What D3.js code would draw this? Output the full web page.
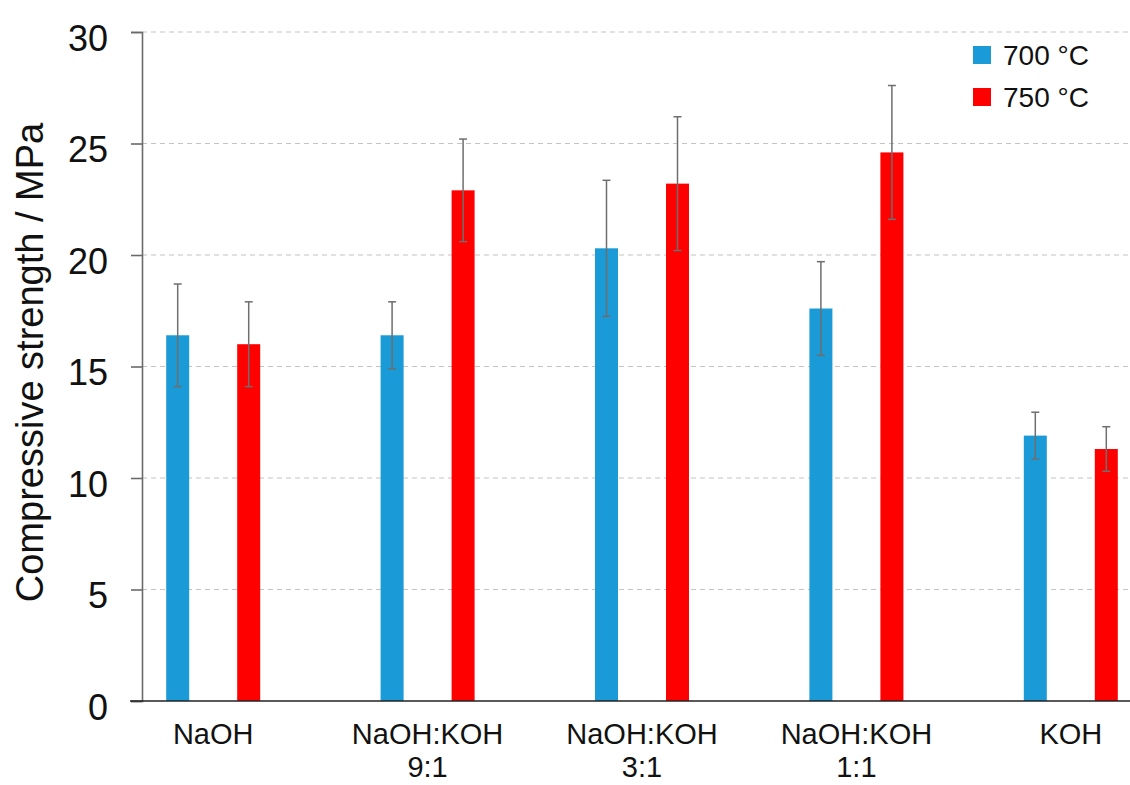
<!DOCTYPE html>
<html>
<head>
<meta charset="utf-8">
<script src="https://cdn.jsdelivr.net/npm/d3@7"></script>
<style>
  body { margin: 0; background: #fff; }
  svg { font-family: Arial, "Liberation Sans", sans-serif; }
</style>
</head>
<body>
<div id="chart"></div>
<script>
// Dados
const categorias = [["NaOH"], ["NaOH:KOH", "9:1"], ["NaOH:KOH", "3:1"], ["NaOH:KOH", "1:1"], ["KOH"]];
const series = ["700 °C", "750 °C"];
const valores700 = [16.4, 16.4, 20.3, 17.6, 11.9];
const erros700 = [2.3, 1.5, 3.05, 2.1, 1.05];
const valores750 = [16.0, 22.9, 23.2, 24.6, 11.3];
const erros750 = [1.9, 2.3, 3.0, 3.0, 1.0];
const ticksY = [0, 5, 10, 15, 20, 25, 30];
const cores = ["#1a9ad6", "#ff0000"];

const width = 1130, height = 785;

const svg = d3.select("#chart").append("svg")
    .attr("width", width)
    .attr("height", height);

// Escalas
const x = d3.scaleBand()
    .domain(d3.range(categorias.length))
    .range([106, 1178]);

const y = d3.scaleLinear()
    .domain([0, 30])
    .range([701, 32]);

const xSub = d3.scaleOrdinal()
    .domain(series)
    .range([-35.5, 35.5]);

// Linhas de grade tracejadas
svg.append("g")
    .selectAll("line")
    .data(ticksY.filter(d => d > 0))
    .enter()
    .append("line")
    .attr("x1", 142).attr("x2", width)
    .attr("y1", d => y(d)).attr("y2", d => y(d))
    .attr("stroke", "#c4c4c4")
    .attr("stroke-width", 1.2)
    .attr("stroke-dasharray", "5,4");

// Eixo Y
const eixoY = svg.append("g")
    .attr("transform", "translate(142,0)")
    .call(d3.axisLeft(y).tickValues(ticksY).tickSize(11).tickPadding(23));
eixoY.select(".domain").attr("stroke", "#6b6b6b").attr("stroke-width", 1.6);
eixoY.selectAll(".tick line").attr("stroke", "#6b6b6b").attr("stroke-width", 1.6);
eixoY.selectAll(".tick text")
    .attr("font-size", 36)
    .attr("dy", "0.5em")
    .attr("fill", "#111")
    .attr("font-family", "Arial, 'Liberation Sans', sans-serif");

// Título do eixo Y
svg.append("text")
    .attr("transform", `translate(43,${y(15) - 4}) rotate(-90)`)
    .attr("text-anchor", "middle")
    .attr("font-size", 38)
    .attr("fill", "#111")
    .text("Compressive strength / MPa");

// Barras
const dados = [];
categorias.forEach((c, i) => {
    dados.push({ i: i, s: series[0], v: valores700[i], e: erros700[i] });
    dados.push({ i: i, s: series[1], v: valores750[i], e: erros750[i] });
});
const cor = d3.scaleOrdinal().domain(series).range(cores);
const barW = 23;

svg.append("g")
    .selectAll("rect")
    .data(dados)
    .enter()
    .append("rect")
    .attr("x", d => x(d.i) + x.bandwidth() / 2 + xSub(d.s) - barW / 2)
    .attr("y", d => y(d.v))
    .attr("width", barW)
    .attr("height", d => y(0) - y(d.v))
    .attr("fill", d => cor(d.s));

// Barras de erro
const eb = svg.append("g")
    .selectAll("g")
    .data(dados)
    .enter()
    .append("g")
    .attr("stroke", "#6e6e6e")
    .attr("stroke-width", 1.5);
const cx = d => x(d.i) + x.bandwidth() / 2 + xSub(d.s);
eb.append("line")
    .attr("x1", cx).attr("x2", cx)
    .attr("y1", d => y(d.v + d.e)).attr("y2", d => y(d.v - d.e));
eb.append("line")
    .attr("x1", d => cx(d) - 4).attr("x2", d => cx(d) + 4)
    .attr("y1", d => y(d.v + d.e)).attr("y2", d => y(d.v + d.e));
eb.append("line")
    .attr("x1", d => cx(d) - 4).attr("x2", d => cx(d) + 4)
    .attr("y1", d => y(d.v - d.e)).attr("y2", d => y(d.v - d.e));

// Eixo X
svg.append("line")
    .attr("x1", 130).attr("x2", width)
    .attr("y1", y(0)).attr("y2", y(0))
    .attr("stroke", "#222")
    .attr("stroke-width", 1.6);

const rotulos = svg.append("g")
    .selectAll("text")
    .data(categorias)
    .enter()
    .append("text")
    .attr("x", (d, i) => x(i) + x.bandwidth() / 2)
    .attr("y", 744)
    .attr("text-anchor", "middle")
    .attr("font-size", 29)
    .attr("fill", "#111");
rotulos.selectAll("tspan")
    .data(d => d)
    .enter()
    .append("tspan")
    .attr("x", function() { return d3.select(this.parentNode).attr("x"); })
    .attr("dy", (d, j) => j === 0 ? 0 : 33)
    .text(d => d);

// Legenda
const leg = svg.append("g")
    .selectAll("g")
    .data(series)
    .enter()
    .append("g")
    .attr("transform", (d, i) => `translate(973,${46 + i * 42})`);
leg.append("rect")
    .attr("width", 18).attr("height", 18)
    .attr("fill", d => cor(d));
leg.append("text")
    .attr("x", 30)
    .attr("y", 19)
    .attr("font-size", 28)
    .attr("fill", "#111")
    .text(d => d);
</script>
</body>
</html>
